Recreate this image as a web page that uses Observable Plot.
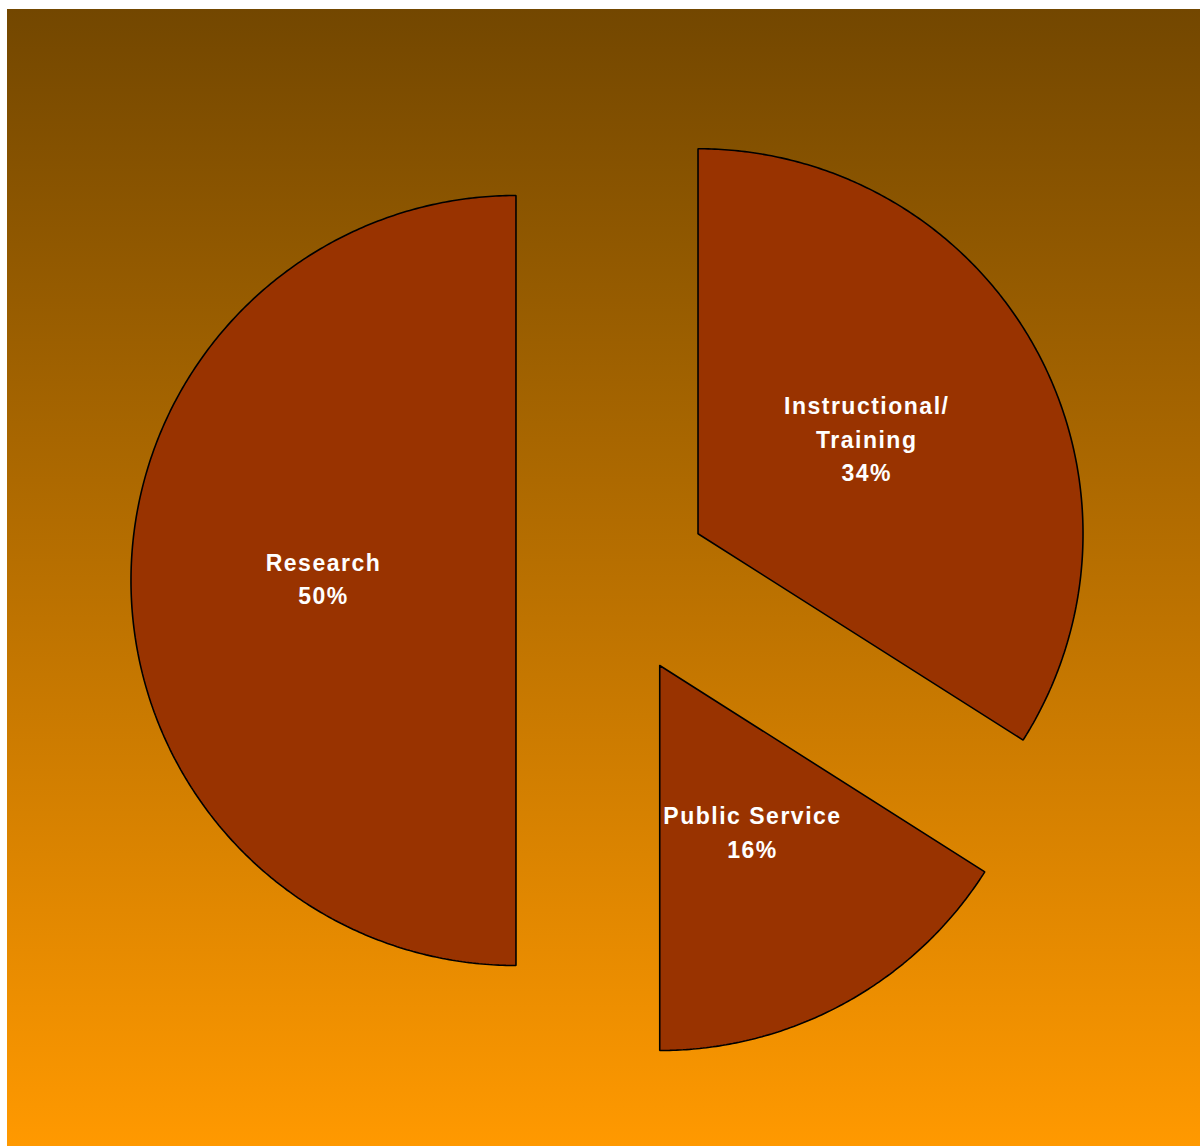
<!DOCTYPE html>
<html>
<head>
<meta charset="utf-8">
<script src="https://cdn.jsdelivr.net/npm/d3@7"></script>
<script src="https://cdn.jsdelivr.net/npm/@observablehq/plot@0.6"></script>
<style>
  html, body { margin: 0; padding: 0; background: #ffffff; }
  #chart {
    position: absolute; left: 7px; top: 9px; width: 1193px; height: 1137px;
    background: linear-gradient(to bottom, #734700 0%, #ff9900 100%);
  }
  #chart svg { background: transparent !important; display: block; }
</style>
</head>
<body>
<div id="chart"></div>
<script>
// Data (clockwise from 12 o'clock)
const categories = ["Instructional/\nTraining", "Public Service", "Research"];
const shares = [34, 16, 50];
const sliceColor = "#993300";

// Geometry helpers (unit circle, radius 1)
const W = 1193, H = 1137;
const R = 385;           // pixels per unit radius
const CX = 605.5, CY = 571; // pie centre in pixels
const explode = 0.252;   // explode distance in radii
const total = d3.sum(shares);

const slicePts = [];
const labels = [];
let acc = 0;
categories.forEach((cat, i) => {
  const a0 = acc / total * 2 * Math.PI;
  acc += shares[i];
  const a1 = acc / total * 2 * Math.PI;
  const mid = (a0 + a1) / 2;
  const ox = explode * Math.sin(mid), oy = explode * Math.cos(mid);
  slicePts.push({cat, x: ox, y: oy});
  const n = Math.max(8, Math.ceil((a1 - a0) / (Math.PI / 180) * 2));
  for (let k = 0; k <= n; k++) {
    const a = a0 + (a1 - a0) * k / n;
    slicePts.push({cat, x: ox + Math.sin(a), y: oy + Math.cos(a)});
  }
  slicePts.push({cat, x: ox, y: oy});
  labels.push({text: `${cat}\n${shares[i]}%`, x: ox + 0.5 * Math.sin(mid), y: oy + 0.5 * Math.cos(mid)});
});

const chart = Plot.plot({
  width: W,
  height: H,
  margin: 0,
  style: {background: "transparent"},
  x: {domain: [-CX / R, (W - CX) / R], range: [0, W], axis: null},
  y: {domain: [(CY - H) / R, CY / R], range: [H, 0], axis: null},
  marks: [
    Plot.line(slicePts, {x: "x", y: "y", z: "cat", fill: sliceColor, stroke: "#000000", strokeWidth: 1.6, curve: "linear", strokeLinejoin: "miter"}),
    Plot.text(labels, {
      x: "x", y: "y", text: "text", fill: "#ffffff", dy: -4,
      fontSize: 23, fontWeight: "bold", fontFamily: "'Liberation Sans', Arial, sans-serif",
      lineHeight: 1.45, textAnchor: "middle"
    })
  ]
});
chart.querySelectorAll("text").forEach(t => t.style.letterSpacing = "1.5px");
document.getElementById("chart").appendChild(chart);
</script>
</body>
</html>
